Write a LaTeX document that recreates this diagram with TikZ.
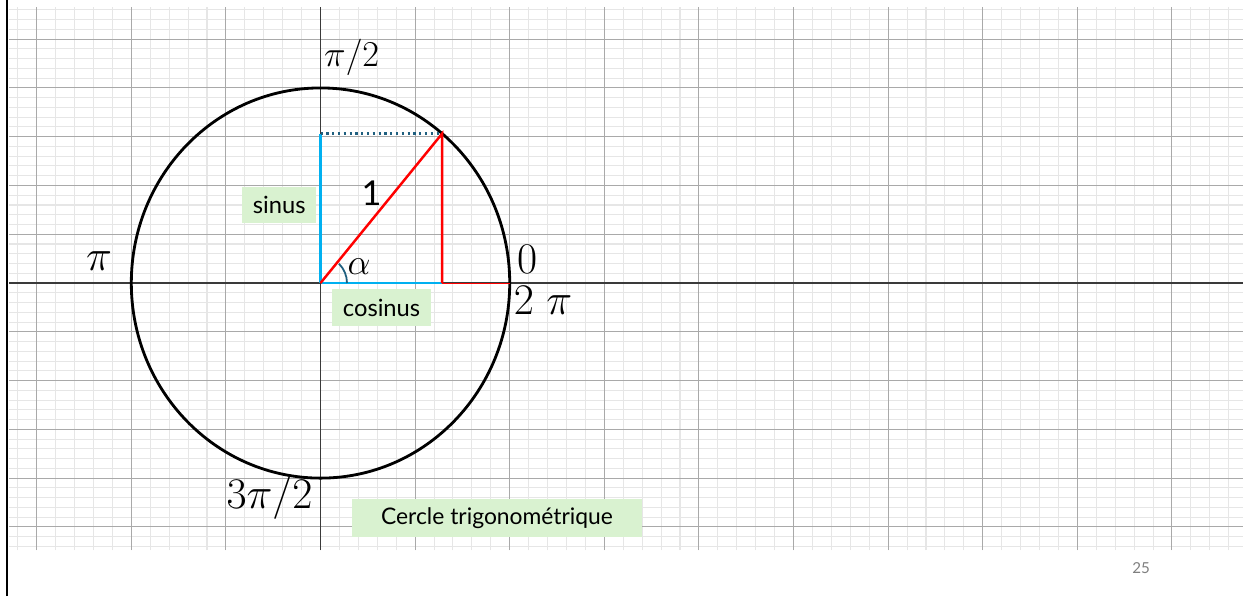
\documentclass[tikz,border=0pt]{standalone}
\usepackage{fontspec}
\setsansfont{Lato}
\usepackage{tikz}
\usetikzlibrary{positioning}
\definecolor{gridMinor}{HTML}{E6E6E6}
\definecolor{gridMajor}{HTML}{A9A9A9}
\definecolor{axisInk}{HTML}{3A3A3A}
\definecolor{trigRed}{HTML}{FF0000}
\definecolor{trigBlue}{HTML}{00B0F0}
\definecolor{trigTeal}{HTML}{1F5F7F}
\definecolor{labelWash}{HTML}{D9F2D0}
\definecolor{pageMuted}{HTML}{7F7F7F}
\tikzset{
  minorgrid/.style  = {draw=gridMinor, line width=0.6pt},
  majorgrid/.style  = {draw=gridMajor, line width=0.6pt},
  axisline/.style   = {draw=axisInk, line width=0.9pt},
  frameline/.style  = {draw=black, line width=1.1pt},
  unitcircle/.style = {draw=black, line width=1.6pt},
  sinline/.style    = {draw=trigBlue, line width=1.4pt},
  dotline/.style    = {draw=trigTeal, line width=1.3pt, dotted},
  radius/.style     = {draw=trigRed, line width=1.4pt},
  thinred/.style    = {draw=trigRed, line width=0.5pt},
  anglearc/.style   = {draw=trigTeal, line width=1pt},
  mathlbl/.style    = {inner sep=0pt, font=\fontsize{24.5}{28}\selectfont},
  washbox/.style    = {fill=labelWash, inner sep=0pt, align=center,
                       font=\sffamily\fontsize{13.5}{15}\selectfont},
  pagenum/.style    = {inner sep=0pt, text=pageMuted,
                       font=\sffamily\fontsize{8.6}{10}\selectfont},
}
\begin{document}
\begin{tikzpicture}[x=1.892cm, y=0.9754cm]
  \useasboundingbox[fill=white] (-3.388,-6.418) rectangle (9.751,5.803);
  % graph paper
  \draw[minorgrid, step=0.2] (-3.29,-5.475) grid (9.751,5.659);
  \draw[majorgrid, step=1] (-3.29,-5.475) grid (9.751,5.659);
  \draw[axisline] (-3.29,0) -- (9.751,0);
  \draw[axisline] (0,-5.475) -- (0,5.659);
  \draw[frameline] (-3.317,-6.418) -- (-3.317,5.803);

  \coordinate (O) at (0,0);
  \coordinate (P) at (50:2 and 4);
  \coordinate (Px) at (P |- O);
  \coordinate (Py) at (P -| O);
  \coordinate (E) at (2,0);

  \draw[unitcircle] (O) ellipse[x radius=2, y radius=4];
  \draw[sinline] (O) -- (Py);
  \draw[sinline] (O) -- (Px);
  \draw[dotline] (Py) -- (P);
  \draw[thinred] (Px) -- (E);
  \draw[radius] (O) -- (P) -- (Px);
  \draw[anglearc] (O) ++(0.28,0) arc[start angle=0, end angle=46,
                                     x radius=0.28, y radius=0.55];

  \node[mathlbl, font=\fontsize{22.5}{26}\selectfont] (halfpi) at (0.33,4.634) {$\pi/2$};
  \node[mathlbl] (pi) at (-2.341,0.451) {$\pi$};
  \node[mathlbl, font=\fontsize{23.5}{27}\selectfont] (zero) at (2.183,0.482) {$0$};
  \node[mathlbl, font=\fontsize{23.5}{27}\selectfont] (twopi) at (2.352,-0.349) {$2\ \pi$};
  \node[mathlbl] (threehalfpi) at (-0.539,-4.408) {$3\pi/2$};
  \node[mathlbl, font=\fontsize{19.5}{22}\selectfont] (alpha) at (0.407,0.328) {$\alpha$};
  \node[mathlbl, font=\sffamily\fontsize{19.5}{22}\selectfont] (one) at (0.539,1.845) {1};

  \node[washbox, minimum width=1.474cm, minimum height=0.732cm] (sinus)
    at (-0.437,1.60) {sinus};
  \node[washbox, minimum width=1.98cm, minimum height=0.74cm] (cosinus)
    at (0.645,-0.502) {cosinus};
  \node[washbox, font=\sffamily\fontsize{13}{15}\selectfont,
        minimum width=5.8cm, minimum height=0.76cm] (title)
    at (1.866,-4.818) {Cercle trigonométrique};
  \node[pagenum] (page) at (8.673,-5.844) {25};
\end{tikzpicture}
\end{document}
